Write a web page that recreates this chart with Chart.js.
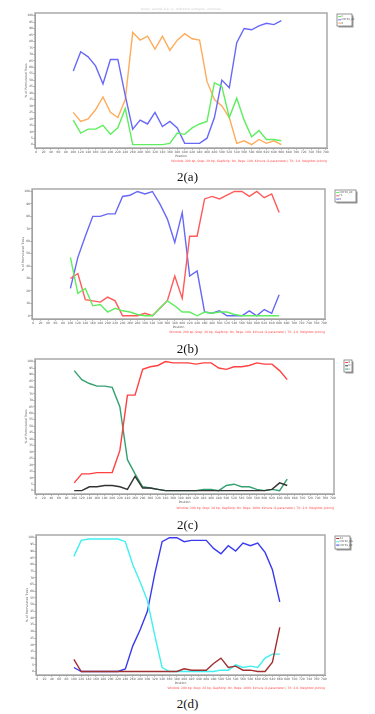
<!DOCTYPE html>
<html>
<head>
<meta charset="utf-8">
<script src="https://cdn.jsdelivr.net/npm/chart.js@4/dist/chart.umd.min.js"></script>
<style>
  html, body { margin: 0; padding: 0; background: #fff; }
  body { width: 375px; height: 714px; position: relative; overflow: hidden; }
  canvas { position: absolute; left: 0; }
  .fig { position: absolute; left: 0; width: 375px; text-align: center;
         font-family: "Liberation Serif", serif; font-size: 13px; color: #111; }
</style>
</head>
<body>
<canvas id="cA" width="375" height="166" style="top:0px"></canvas>
<canvas id="cB" width="375" height="159" style="top:178px"></canvas>
<canvas id="cC" width="375" height="163" style="top:350px"></canvas>
<canvas id="cD" width="375" height="165" style="top:528px"></canvas>
<div class="fig" style="top:169px">2(a)</div>
<div class="fig" style="top:341px">2(b)</div>
<div class="fig" style="top:517px">2(c)</div>
<div class="fig" style="top:696px">2(d)</div>
<script>
// positions along the alignment (bp)
const positions = [100, 120, 140, 160, 180, 200, 220, 240, 260, 280, 300, 320, 340, 360, 380,
                   400, 420, 440, 460, 480, 500, 520, 540, 560, 580, 600, 620, 640, 660];
const yTicks = [0, 5, 10, 15, 20, 25, 30, 35, 40, 45, 50, 55, 60, 65, 70, 75, 80, 85, 90, 95, 100];
const xTicks = Array.from({ length: 40 }, (_, i) => i * 20); // 0 .. 780

// 2(a)
const aGreen  = [19, 9, 12, 12, 15, 8, 13, 28, 0, 0, 0, 0, 0, 1, 9, 8, 13, 16, 18, 48, 45, 21, 36, 19, 6, 11, 4, 4, 3];
const aBlue   = [57, 72, 68, 61, 47, 66, 66, 38, 12, 19, 16, 25, 14, 18, 13, 1, 1, 1, 5, 21, 50, 44, 79, 90, 89, 92, 94, 93, 96];
const aOrange = [25, 18, 20, 27, 37, 25, 21, 35, 87, 81, 84, 74, 84, 73, 81, 86, 82, 81, 49, 35, 30, 21, 1, 3, 0, 4, 1, 3, 0];

// 2(b)
const bGreen = [47, 18, 22, 8, 9, 3, 6, 4, 3, 1, 0, 0, 6, 12, 8, 3, 3, 0, 3, 2, 3, 3, 1, 0, 0, 0, 0, 0, 0];
const bRed   = [30, 34, 13, 12, 11, 15, 12, 0, 0, 0, 2, 0, 6, 12, 32, 14, 64, 64, 94, 96, 94, 97, 100, 100, 96, 100, 95, 98, 83];
const bBlue  = [22, 47, 64, 80, 80, 82, 82, 96, 97, 100, 98, 100, 90, 78, 59, 83, 32, 36, 3, 2, 4, 0, 0, 0, 4, 0, 5, 2, 17];

// 2(c)
const cRed   = [6, 13, 13, 14, 14, 14, 31, 74, 74, 94, 96, 97, 100, 99, 99, 99, 98, 99, 99, 95, 94, 96, 96, 97, 99, 98, 98, 93, 86];
const cBlack = [0, 0, 3, 3, 4, 4, 3, 1, 11, 2, 2, 1, 0, 0, 0, 0, 0, 0, 0, 0, 0, 0, 0, 0, 0, 0, 1, 6, 4];
const cGreen = [93, 86, 83, 81, 81, 80, 65, 24, 13, 3, 2, 1, 0, 0, 0, 0, 0, 1, 1, 0, 4, 5, 3, 3, 1, 0, 1, 0, 9];

// 2(d)
const dRed  = [9, 0, 0, 0, 0, 0, 0, 0, 0, 0, 0, 0, 0, 0, 0, 2, 1, 1, 1, 6, 10, 3, 4, 1, 1, 0, 0, 7, 33];
const dCyan = [86, 98, 99, 99, 99, 99, 99, 97, 80, 67, 53, 27, 3, 0, 0, 0, 0, 0, 0, 0, 1, 1, 5, 3, 4, 3, 10, 13, 13];
const dBlue = [3, 0, 0, 0, 0, 0, 0, 2, 19, 31, 45, 73, 97, 100, 100, 97, 98, 98, 98, 92, 88, 94, 90, 96, 94, 96, 89, 76, 52];

const captionA = "Window: 200 bp, Step: 20 bp, GapStrip: On, Reps: 100, Kimura (2-parameter), T/t: 2.0, Neighbor-Joining";
const captionC = "Window: 200 bp, Step: 20 bp, GapStrip: On, Reps: 1000, Kimura (2-parameter), T/t: 2.0, Neighbor-Joining";

const pts = vals => positions.map((p, i) => ({ x: p, y: vals[i] }));

// frame, caption and small legend box like the SimPlot export
const panelDecor = {
  id: "panelDecor",
  afterDraw(chart, args, opts) {
    const ctx = chart.ctx, a = chart.chartArea;
    ctx.save();
    ctx.strokeStyle = "#a9a9a9";
    ctx.lineWidth = 1.5;
    ctx.strokeRect(a.left, a.top, a.right - a.left, a.bottom - a.top);

    ctx.fillStyle = "#ff4a4a";
    ctx.font = '3px "DejaVu Sans"';
    ctx.textAlign = "right";
    ctx.textBaseline = "middle";
    ctx.fillText(opts.caption, a.right, opts.captionY);

    if (opts.title) {
      ctx.fillStyle = "#d0d0d0";
      ctx.textAlign = "center";
      ctx.fillText(opts.title, (a.left + a.right) / 2, a.top - 4);
    }

    const L = opts.legend;
    ctx.fillStyle = "#9a9a9a";
    ctx.fillRect(L.x + 1.5, L.y + 1.5, L.w, L.h);
    ctx.fillStyle = "#fff";
    ctx.fillRect(L.x, L.y, L.w, L.h);
    ctx.strokeStyle = "#7a7a7a";
    ctx.lineWidth = 0.8;
    ctx.strokeRect(L.x, L.y, L.w, L.h);
    ctx.textAlign = "left";
    ctx.font = '2.6px "DejaVu Sans"';
    chart.data.datasets.forEach((ds, i) => {
      const y = L.y + 2.5 + i * 3.3;
      ctx.strokeStyle = ds.borderColor;
      ctx.lineWidth = 1;
      ctx.beginPath();
      ctx.moveTo(L.x + 1.2, y);
      ctx.lineTo(L.x + 4, y);
      ctx.stroke();
      ctx.fillStyle = "#555";
      ctx.fillText(ds.label, L.x + 4.6, y);
    });
    ctx.restore();
  }
};

function makePanel(id, canvasTop, canvasH, box, datasets, decor) {
  const yW = 11, xH = 10;
  new Chart(document.getElementById(id), {
    type: "line",
    data: { datasets: datasets.map(d => ({
      label: d.label,
      data: pts(d.data),
      borderColor: d.color,
      borderWidth: 1.4,
      pointRadius: 0,
      tension: 0,
      fill: false
    })) },
    options: {
      responsive: false,
      animation: false,
      layout: { padding: {
        left: box.L - yW,
        right: 375 - box.R,
        top: box.T - canvasTop,
        bottom: canvasH - (box.B - canvasTop) - xH
      } },
      plugins: { legend: { display: false }, tooltip: { enabled: false }, panelDecor: decor },
      scales: {
        x: {
          type: "linear", min: -3, max: 783,
          afterFit: s => { s.height = xH; },
          afterBuildTicks: s => { s.ticks = xTicks.map(v => ({ value: v })); },
          ticks: { autoSkip: false, maxRotation: 0, padding: 0.5,
                   font: { size: 3, family: "DejaVu Sans" }, color: "#555" },
          grid: { drawOnChartArea: false, tickLength: 1.5, color: "#888" },
          border: { color: "#888" },
          title: { display: true, text: "Position", padding: 0,
                   font: { size: 3, family: "DejaVu Sans" }, color: "#555" }
        },
        y: {
          min: -2.6, max: 102,
          afterFit: s => { s.width = yW; },
          afterBuildTicks: s => { s.ticks = yTicks.map(v => ({ value: v })); },
          ticks: { padding: 0.5, font: { size: 3, family: "DejaVu Sans" }, color: "#555" },
          grid: { drawOnChartArea: false, tickLength: 1.5, color: "#888" },
          border: { color: "#888" },
          title: { display: true, text: "% of Permutated Trees", padding: 0,
                   font: { size: 3, family: "DejaVu Sans" }, color: "#555" }
        }
      }
    },
    plugins: [panelDecor]
  });
}

makePanel("cA", 0, 166, { L: 35, R: 327, T: 13, B: 148 }, [
  { label: "C", data: aGreen, color: "#5fee5f" },
  { label: "CRF01_AE", data: aBlue, color: "#6868f8" },
  { label: "B", data: aOrange, color: "#ffab5a" }
], { caption: captionA, captionY: 161, title: "Query: sample 2(a) vs. reference subtypes - bootscan",
     legend: { x: 337, y: 14, w: 15, h: 12 } });

makePanel("cB", 178, 159, { L: 32, R: 325, T: 189, B: 319 }, [
  { label: "CRF01_AE", data: bGreen, color: "#5fee5f" },
  { label: "F1", data: bRed, color: "#ff5a5a" },
  { label: "B", data: bBlue, color: "#6868f8" }
], { caption: captionA, captionY: 154, legend: { x: 335, y: 12, w: 21, h: 12 } });

makePanel("cC", 350, 163, { L: 35, R: 334, T: 359, B: 494 }, [
  { label: "B", data: cRed, color: "#ff4040" },
  { label: "D", data: cBlack, color: "#333333" },
  { label: "C", data: cGreen, color: "#33a070" }
], { caption: captionC, captionY: 158, legend: { x: 344, y: 10, w: 8, h: 12 } });

makePanel("cD", 528, 165, { L: 36, R: 325, T: 535, B: 675 }, [
  { label: "A1", data: dRed, color: "#a03030" },
  { label: "CRF02_AG", data: dCyan, color: "#40f0f0" },
  { label: "CRF01_AE", data: dBlue, color: "#3a3af0" }
], { caption: captionC, captionY: 160, legend: { x: 335, y: 8, w: 15, h: 13 } });
</script>
</body>
</html>
